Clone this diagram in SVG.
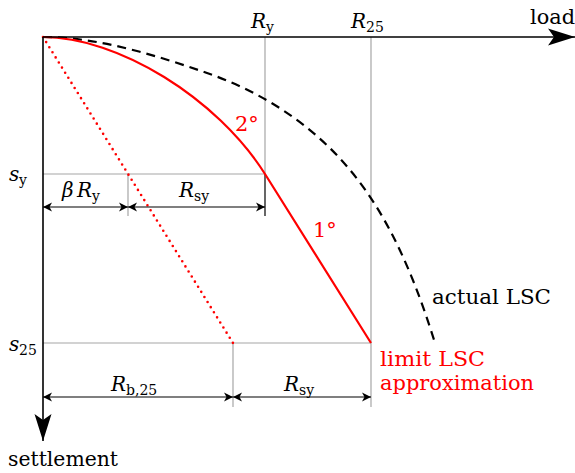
<svg xmlns="http://www.w3.org/2000/svg" width="575" height="473" viewBox="0 0 575 473">
<style>
text{font-family:"DejaVu Serif",serif}
.t{font-size:21px}
.m{font-size:20px;font-style:italic}
.sub{font-size:14px;font-style:normal}
.red{fill:#ff0000}
.gray{stroke:#a6a6a6;stroke-width:1.2;fill:none}
.axis{stroke:#000;stroke-width:1.6;fill:none}
.dim{stroke:#000;stroke-width:1.2;fill:none;marker-start:url(#dh);marker-end:url(#dh)}
</style>
<defs>
<marker id="dh" viewBox="-10 -5 11 10" refX="0" refY="0" markerWidth="11" markerHeight="10" markerUnits="userSpaceOnUse" orient="auto-start-reverse">
<path d="M0,0 L-9,-4.5 L-6.5,0 L-9,4.5 Z" fill="#000"/>
</marker>
<marker id="ah" viewBox="-28 -10 29 20" refX="0" refY="0" markerWidth="29" markerHeight="20" markerUnits="userSpaceOnUse" orient="auto">
<path d="M0,0 L-27,-8.5 L-21,0 L-27,8.5 Z" fill="#000"/>
</marker>
</defs>

<g id="guides">
<line class="gray" x1="265" y1="37" x2="265" y2="174" stroke="#909090"/>
<line x1="265" y1="174" x2="265" y2="216" stroke="#000" stroke-width="1.2"/>
<line class="gray" x1="371" y1="37" x2="371" y2="407"/>
<line class="gray" x1="43" y1="174" x2="265" y2="174"/>
<line class="gray" x1="128" y1="174" x2="128" y2="216"/>
<line class="gray" x1="43" y1="343" x2="371" y2="343"/>
<line class="gray" x1="233" y1="343" x2="233" y2="407"/>
</g>

<g id="curves">
<path id="actual-lsc" d="M43,37 C98,37 155,55 207,73 C262,92 313,125 350,170 C391,219 416,282 435,343" fill="none" stroke="#000" stroke-width="2.2" stroke-dasharray="9 6"/>
<line id="initial-slope" x1="43" y1="37" x2="233" y2="343" stroke="#ff0000" stroke-width="2.6" stroke-linecap="round" stroke-dasharray="0 6"/>
<path id="limit-lsc" d="M43,37 C118,37 217,98 265,174 L371,343" fill="none" stroke="#ff0000" stroke-width="2.2"/>
</g>

<g id="axes">
<line class="axis" x1="43" y1="37" x2="575" y2="37" marker-end="url(#ah)"/>
<line class="axis" x1="43" y1="37" x2="43" y2="441" marker-end="url(#ah)"/>
</g>

<g id="connectors">
<line class="dim" x1="43" y1="207" x2="128" y2="207"/>
<line class="dim" x1="128" y1="207" x2="265" y2="207"/>
<line class="dim" x1="43" y1="397" x2="233" y2="397"/>
<line class="dim" x1="233" y1="397" x2="371" y2="397"/>
</g>

<g id="labels">
<text class="t" x="530" y="24" textLength="45" lengthAdjust="spacingAndGlyphs">load</text>
<text class="t" x="8" y="466" textLength="110" lengthAdjust="spacingAndGlyphs">settlement</text>
<text class="m" x="251" y="28">R<tspan class="sub" x="266" y="32">y</tspan></text>
<text class="m" x="351" y="28">R<tspan class="sub" x="366" y="32">25</tspan></text>
<text class="m" x="9" y="181">s<tspan class="sub" x="19" y="185">y</tspan></text>
<text class="m" x="9" y="351">s<tspan class="sub" x="19" y="355">25</tspan></text>
<text class="m" x="62" y="197">β<tspan x="77">R</tspan><tspan class="sub" x="92" y="201">y</tspan></text>
<text class="m" x="179" y="197">R<tspan class="sub" x="194" y="201">sy</tspan></text>
<text class="m" x="111" y="391">R<tspan class="sub" x="126" y="395">b,25</tspan></text>
<text class="m" x="284" y="391">R<tspan class="sub" x="299" y="395">sy</tspan></text>
<text class="t red" x="235" y="131">2°</text>
<text class="t red" x="313" y="237">1°</text>
<text class="t" x="432" y="304" textLength="119" lengthAdjust="spacingAndGlyphs">actual LSC</text>
<text class="t red" x="380" y="366" textLength="105" lengthAdjust="spacingAndGlyphs">limit LSC</text>
<text class="t red" x="380" y="390" textLength="154" lengthAdjust="spacingAndGlyphs">approximation</text>
</g>
</svg>
